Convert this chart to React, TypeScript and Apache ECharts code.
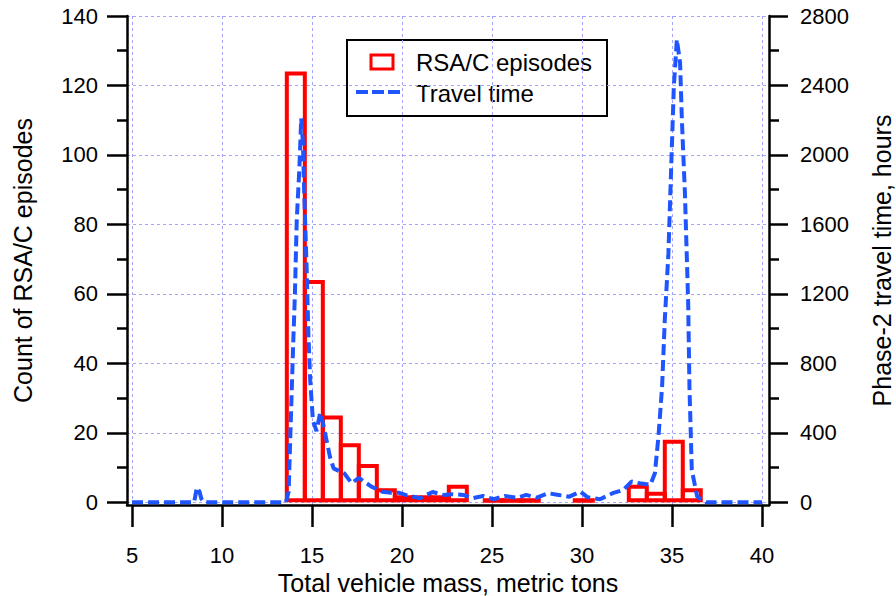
import React, { useEffect, useRef } from "react";
import * as echarts from "echarts";

// ---- data ----
const xTickValues = [5, 10, 15, 20, 25, 30, 35, 40];
const leftMajorTicks = [0, 20, 40, 60, 80, 100, 120, 140];
const leftMinorTicks = [10, 30, 50, 70, 90, 110, 130];
const rightMajorTicks = [0, 400, 800, 1200, 1600, 2000, 2400, 2800];
const rightMinorTicks = [200, 600, 1000, 1400, 1800, 2200, 2600];

// histogram bins (1 metric ton wide), left edges and counts
const binStart = [13.6, 14.6, 15.6, 16.6, 17.6, 18.6, 19.6, 20.6, 21.6, 22.6, 23.6, 24.6, 25.6, 26.6, 27.6, 28.6, 29.6, 30.6, 31.6, 32.6, 33.6, 34.6, 35.6];
const binCounts = [124, 64, 25, 17, 11, 4, 2, 2, 2, 5, 0, 1, 1, 1, 0, 0, 1, 0, 0, 5, 3, 18, 4];
const binWidth = 1;

// travel time curve
const ttMass = [5.0, 8.45, 8.6, 8.75, 8.85, 9.0, 13.55, 13.7, 13.8, 13.95, 14.05, 14.15, 14.3, 14.4, 14.5, 14.55, 14.7, 14.8, 14.9, 15.05, 15.25, 15.45, 15.6, 16.0, 16.2, 16.5, 16.8, 17.2, 17.6, 18.3, 18.9, 19.4, 19.8, 20.2, 21.0, 21.7, 22.3, 22.8, 23.4, 23.9, 24.5, 25.1, 25.7, 26.4, 26.9, 27.5, 28.1, 28.7, 29.3, 29.9, 30.3, 31.0, 31.7, 32.3, 32.75, 33.2, 33.8, 34.05, 34.25, 34.45, 34.6, 34.8, 34.95, 35.1, 35.27, 35.45, 35.55, 35.72, 35.9, 35.97, 36.1, 36.4, 36.9, 40.0];
const ttHours = [0, 0, 85, 60, 20, 0, 0, 60, 400, 900, 1200, 1620, 1930, 2210, 2060, 1840, 1350, 960, 700, 470, 410, 515, 460, 260, 195, 180, 165, 110, 140, 90, 60, 55, 55, 42, 23, 59, 42, 46, 42, 23, 36, 17, 36, 26, 42, 26, 52, 42, 32, 61, 29, 17, 52, 71, 119, 109, 100, 167, 380, 665, 1050, 1430, 1910, 2390, 2665, 2530, 2200, 1775, 1145, 665, 186, 32, 0, 0];

const FONT = "Liberation Sans, Arial, sans-serif";
const RED = "#ff0000";
const BLUE = "#1f55ff";
const GRIDC = "#a4a4ff";

export default function App() {
  const ref = useRef<HTMLDivElement>(null);
  useEffect(() => {
    if (!ref.current) return;
    const chart = echarts.init(ref.current, null, { renderer: "svg" });
    const barData = binStart
      .map((s, i) => [s, s + binWidth, binCounts[i]])
      .filter((d) => d[2] > 0);
    const lineData = ttMass.map((m, i) => [m, ttHours[i]]);
    const lw = 4;

    const tickLine = { color: "#000", width: 2.5 };
    const splitStyle = { show: true, lineStyle: { color: GRIDC, type: [3, 3], width: 1 } };
    const labelStyle = { color: "#000", fontSize: 22, fontFamily: FONT, formatter: (v: number) => String(v) };
    const nameStyle = { color: "#000", fontSize: 25, fontFamily: FONT };

    chart.setOption({
      animation: false,
      backgroundColor: "#fff",
      grid: { left: 127, right: 127, top: 16, bottom: 91, containLabel: false, outerBoundsMode: "none" },
      xAxis: {
        type: "value",
        min: 4.72,
        max: 40.39,
        axisLine: { onZero: false, lineStyle: tickLine },
        axisTick: { customValues: xTickValues, length: 22, lineStyle: tickLine },
        axisLabel: { customValues: xTickValues, margin: 39, ...labelStyle },
        splitLine: splitStyle,
        name: "Total vehicle mass, metric tons",
        nameLocation: "middle",
        nameGap: 62,
        nameTextStyle: nameStyle,
      },
      yAxis: [
        {
          type: "value",
          position: "left",
          min: -0.8,
          max: 140,
          axisLine: { show: true, onZero: false, lineStyle: tickLine },
          axisTick: { show: true, customValues: leftMajorTicks, length: 20, lineStyle: tickLine },
          axisLabel: { customValues: leftMajorTicks, margin: 29, ...labelStyle },
          splitLine: splitStyle,
          name: "Count of RSA/C episodes",
          nameLocation: "middle",
          nameRotate: 90,
          nameGap: 92,
          nameTextStyle: nameStyle,
        },
        {
          type: "value",
          position: "left",
          min: -0.8,
          max: 140,
          axisLine: { show: false, onZero: false },
          axisTick: { show: true, customValues: leftMinorTicks, length: 10, lineStyle: tickLine },
          axisLabel: { show: false },
          splitLine: { show: false },
        },
        {
          type: "value",
          position: "right",
          min: -16,
          max: 2800,
          axisLine: { show: true, onZero: false, lineStyle: tickLine },
          axisTick: { show: true, customValues: rightMajorTicks, length: 19, lineStyle: tickLine },
          axisLabel: { customValues: rightMajorTicks, margin: 31, ...labelStyle },
          splitLine: { show: false },
          name: "Phase-2 travel time, hours",
          nameLocation: "middle",
          nameRotate: 90,
          nameGap: 100,
          nameTextStyle: nameStyle,
        },
        {
          type: "value",
          position: "right",
          min: -16,
          max: 2800,
          axisLine: { show: false, onZero: false },
          axisTick: { show: true, customValues: rightMinorTicks, length: 10, lineStyle: tickLine },
          axisLabel: { show: false },
          splitLine: { show: false },
        },
      ],
      series: [
        {
          name: "RSA/C episodes",
          type: "custom",
          xAxisIndex: 0,
          yAxisIndex: 0,
          z: 2,
          encode: { x: [0, 1], y: 2 },
          data: barData,
          renderItem: (params: any, api: any) => {
            const x0 = api.value(0);
            const x1 = api.value(1);
            const c = api.value(2);
            const pTop = api.coord([x0, c]);
            const pBot = api.coord([x1, 0]);
            return {
              type: "rect",
              shape: {
                x: pTop[0],
                y: pTop[1] + lw / 2,
                width: pBot[0] - pTop[0],
                height: pBot[1] - pTop[1] - lw,
              },
              style: { fill: "none", stroke: RED, lineWidth: lw },
            };
          },
        },
        {
          name: "Travel time",
          type: "line",
          xAxisIndex: 0,
          yAxisIndex: 2,
          z: 3,
          showSymbol: false,
          symbol: "none",
          data: lineData,
          lineStyle: { color: BLUE, width: 4, type: [11, 5] },
        },
      ],
      graphic: [
        {
          type: "group",
          z: 100,
          children: [
            {
              type: "rect",
              shape: { x: 347, y: 40, width: 260, height: 76 },
              style: { fill: "#fff", stroke: "#000", lineWidth: 2 },
            },
            {
              type: "rect",
              shape: { x: 371, y: 55, width: 22, height: 14 },
              style: { fill: "none", stroke: RED, lineWidth: 3 },
            },
            {
              type: "line",
              shape: { x1: 356, y1: 92, x2: 402, y2: 92 },
              style: { stroke: BLUE, lineWidth: 4, lineDash: [12, 4] },
            },
            {
              type: "text",
              x: 416,
              y: 62,
              style: { text: "RSA/C episodes", fontSize: 24, fontFamily: FONT, fill: "#000", verticalAlign: "middle" },
            },
            {
              type: "text",
              x: 416,
              y: 93,
              style: { text: "Travel time", fontSize: 24, fontFamily: FONT, fill: "#000", verticalAlign: "middle" },
            },
          ],
        },
      ],
    });
    return () => chart.dispose();
  }, []);
  return (
    <div
      ref={ref}
      style={{ position: "fixed", left: 0, top: 0, width: 896, height: 596, background: "#fff" }}
    />
  );
}
